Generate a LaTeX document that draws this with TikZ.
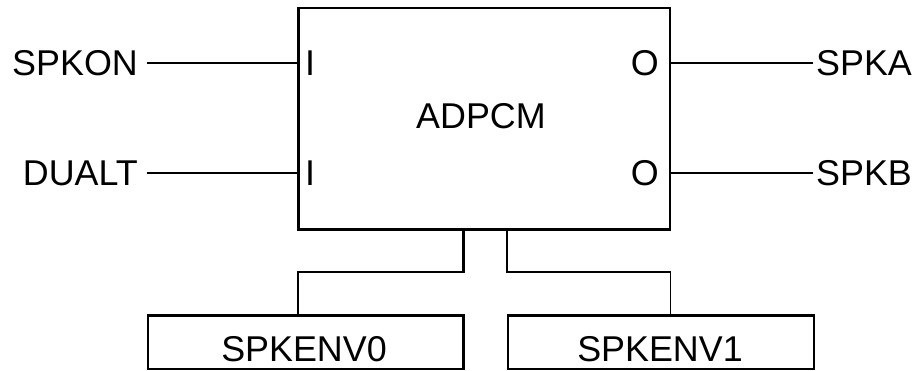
\documentclass[tikz,border=0pt]{standalone}
\usepackage{fontspec}
\setmainfont{Liberation Sans}
\begin{document}
\begin{tikzpicture}[x=1bp,y=-1bp,
  thinline/.style={line width=1.5bp},
  thickline/.style={line width=2.6bp},
  pinline/.style={line width=2.3bp},
  lbl/.style={font=\fontsize{36}{42}\selectfont, inner sep=0pt},
  box/.style={draw, thinline, inner sep=0pt, anchor=north west}]
\useasboundingbox (0,0) rectangle (915,370);
\fill[white] (0,0) rectangle (915,370);
% main block
\node[box, minimum width=371bp, minimum height=221bp] (adpcm) at (298,7) {};
\draw[thickline] (adpcm.north west) -- (adpcm.south west) -- (adpcm.south east);
\node[lbl, anchor=base] (title) at (481,128) {ADPCM};
% pin letters
\node[lbl, anchor=base west] (i1) at (305,75) {I};
\node[lbl, anchor=base west] (i2) at (305,185) {I};
\node[lbl, anchor=base east] (o1) at (659,75) {O};
\node[lbl, anchor=base east] (o2) at (659,185) {O};
% external signals
\node[lbl, anchor=base east] (spkon) at (138,75) {SPKON};
\node[lbl, anchor=base east] (dualt) at (138,185) {DUALT};
\node[lbl, anchor=base west] (spka) at (816,75) {SPKA};
\node[lbl, anchor=base west] (spkb) at (816,185) {SPKB};
\draw[pinline] ([xshift=9bp]spkon.east) -- (spkon.east -| adpcm.west);
\draw[pinline] ([xshift=9bp]dualt.east) -- (dualt.east -| adpcm.west);
\draw[pinline] (spka.west -| adpcm.east) -- ([xshift=-3bp]spka.west);
\draw[pinline] (spkb.west -| adpcm.east) -- ([xshift=-3bp]spkb.west);
% bottom blocks
\node[box, minimum width=315bp, minimum height=53bp] (env0) at (147,315) {};
\node[box, minimum width=306bp, minimum height=53bp] (env1) at (507,315) {};
\draw[thickline] (env0.north west) -- (env0.north east) -- (env0.south east);
\draw[thickline] (env1.north west) -- (env1.north east);
\node[lbl, anchor=base] (t0) at (304,361) {SPKENV0};
\node[lbl, anchor=base] (t1) at (660,361) {SPKENV1};
% connectors
\coordinate (mid) at (0,272);
\draw[thickline] (adpcm.south -| env0.east) -- (env0.east |- mid) -| (env0.north -| adpcm.west);
\draw[thinline] (adpcm.south -| env1.west) -- (env1.west |- mid) -| (env1.north -| adpcm.east);
\end{tikzpicture}
\end{document}
